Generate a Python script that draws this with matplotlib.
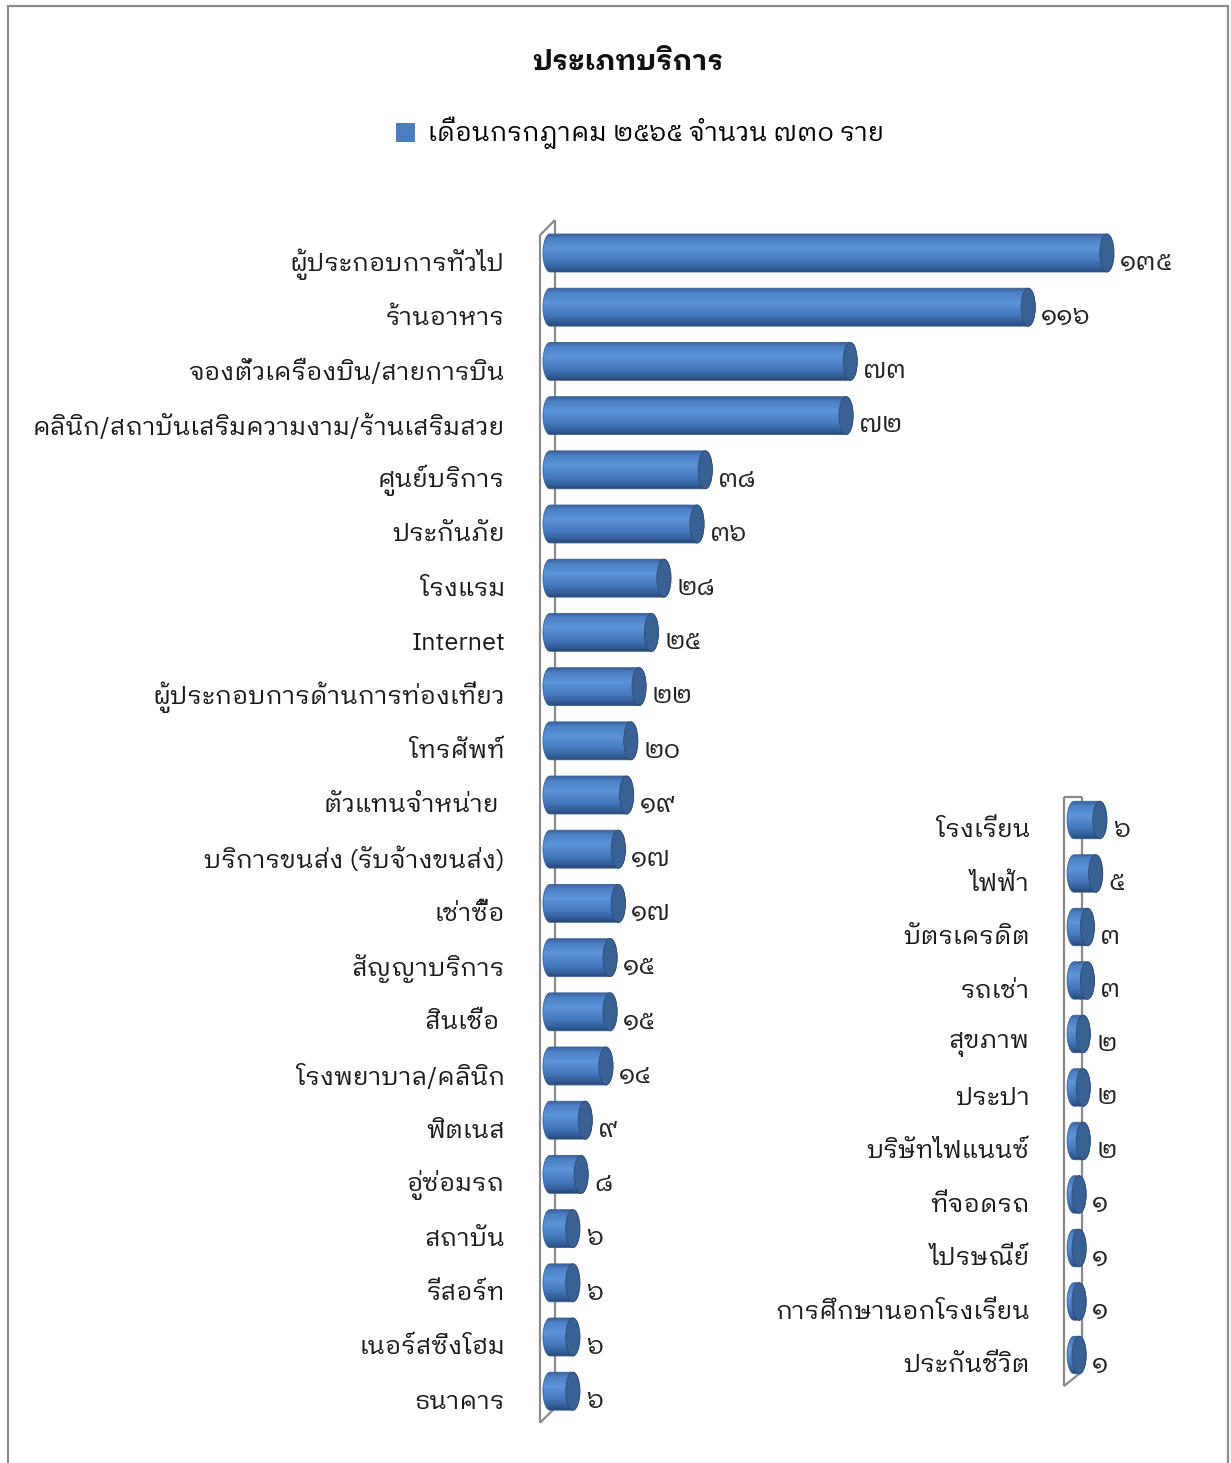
import matplotlib
matplotlib.use("Agg")
import numpy as np
import matplotlib.pyplot as plt
from matplotlib.patches import Ellipse, PathPatch, Rectangle, Patch
from matplotlib.path import Path
from matplotlib.colors import LinearSegmentedColormap

plt.rcParams["font.family"] = ["IBM Plex Sans Thai Looped", "Noto Sans Thai Looped", "DejaVu Sans"]

# ---- data ----
title = "ประเภทบริการ"
legend_label = "เดือนกรกฎาคม ๒๕๖๕ จำนวน ๗๓๐ ราย"

main_cats = [
    "ผู้ประกอบการทั่วไป", "ร้านอาหาร", "จองตั๋วเครื่องบิน/สายการบิน",
    "คลินิก/สถาบันเสริมความงาม/ร้านเสริมสวย", "ศูนย์บริการ", "ประกันภัย",
    "โรงแรม", "Internet", "ผู้ประกอบการด้านการท่องเที่ยว", "โทรศัพท์",
    "ตัวแทนจำหน่าย ", "บริการขนส่ง (รับจ้างขนส่ง)", "เช่าซื้อ", "สัญญาบริการ",
    "สินเชื่อ ", "โรงพยาบาล/คลินิก", "ฟิตเนส", "อู่ซ่อมรถ", "สถาบัน",
    "รีสอร์ท", "เนอร์สซิ่งโฮม", "ธนาคาร",
]
main_vals = [135, 116, 73, 72, 38, 36, 28, 25, 22, 20, 19, 17, 17, 15, 15, 14, 9, 8, 6, 6, 6, 6]

side_cats = [
    "โรงเรียน", "ไฟฟ้า", "บัตรเครดิต", "รถเช่า", "สุขภาพ", "ประปา",
    "บริษัทไฟแนนซ์", "ที่จอดรถ", "ไปรษณีย์", "การศึกษานอกโรงเรียน", "ประกันชีวิต",
]
side_vals = [6, 5, 3, 3, 2, 2, 2, 1, 1, 1, 1]

THAI_DIGITS = str.maketrans("0123456789", "๐๑๒๓๔๕๖๗๘๙")

W, H = 1231, 1463
fig = plt.figure(figsize=(W / 100, H / 100), dpi=100)
fig.patch.set_facecolor("white")

PX = 4.14  # pixels per unit of value


def make_axes(x_left_px, x_right_px, zero_px, y_top_px, y_bot_px, row0_px, row_px):
    ax = fig.add_axes([x_left_px / W, 1 - y_bot_px / H,
                       (x_right_px - x_left_px) / W, (y_bot_px - y_top_px) / H])
    ax.set_xlim((x_left_px - zero_px) / PX, (x_right_px - zero_px) / PX)
    ax.set_ylim((y_bot_px - row0_px) / row_px, (y_top_px - row0_px) / row_px)
    ax.axis("off")
    return ax


body_cmap = LinearSegmentedColormap.from_list(
    "cyl", [(0.0, "#3a64a0"), (0.12, "#4d81c6"), (0.38, "#5d93d8"),
            (0.7, "#4679bd"), (0.9, "#335e99"), (1.0, "#27497a")])
grad = np.linspace(0, 1, 64).reshape(-1, 1)


def cylinder(ax, y, v, x_front, h=0.70, rx=1.7):
    top, bot = y - h / 2, y + h / 2
    xc = max(v - rx, x_front + rx)
    k = 0.5523
    verts = [
        (x_front + rx, top), (xc, top),
        (xc + rx * k, top), (xc + rx, y - h / 2 * k), (xc + rx, y),
        (xc + rx, y + h / 2 * k), (xc + rx * k, bot), (xc, bot),
        (x_front + rx, bot),
        (x_front + rx * (1 - k), bot), (x_front, y + h / 2 * k), (x_front, y),
        (x_front, y - h / 2 * k), (x_front + rx * (1 - k), top), (x_front + rx, top),
    ]
    codes = [Path.MOVETO, Path.LINETO,
             Path.CURVE4, Path.CURVE4, Path.CURVE4,
             Path.CURVE4, Path.CURVE4, Path.CURVE4,
             Path.LINETO,
             Path.CURVE4, Path.CURVE4, Path.CURVE4,
             Path.CURVE4, Path.CURVE4, Path.CURVE4]
    path = Path(verts, codes)
    outline = PathPatch(path, facecolor="none", edgecolor="#3b5f8f", lw=0.6, zorder=3)
    ax.add_patch(outline)
    im = ax.imshow(grad, cmap=body_cmap, aspect="auto", interpolation="bilinear",
                   extent=[x_front, xc + rx, bot, top], zorder=2)
    im.set_clip_path(PathPatch(path, transform=ax.transData))
    cap = Ellipse((xc, y), 2 * rx, h, facecolor="#3a6193", edgecolor="#2c4c78",
                  lw=0.6, zorder=4)
    ax.add_patch(cap)
    return xc + rx


def panel(ax, cats, vals, x_front, wall_front, wall_top, wall_top_front, label_x, fs=18.3):
    n = len(cats)
    rows = np.arange(n)
    wall_kw = dict(color="#8a8a8a", lw=1.6, solid_capstyle="butt", zorder=1)
    wall_bot = n - 1 + 0.31
    ax.plot([0, 0], [wall_top, wall_bot], **wall_kw)
    ax.plot([wall_front, wall_front], [wall_top_front, wall_bot + 0.27], **wall_kw)
    ax.plot([wall_front, 0], [wall_top_front, wall_top], **wall_kw)
    ax.plot([wall_front, 0], [wall_bot + 0.27, wall_bot], **wall_kw)
    for y, c, v in zip(rows, cats, vals):
        end = cylinder(ax, y, v, x_front)
        ax.text(end + 1.4, y + 0.17, str(v).translate(THAI_DIGITS), ha="left",
                va="center", fontsize=19, color="#222222", clip_on=False)
        ax.text(label_x, y + 0.2, c, ha="right", va="center", fontsize=fs,
                color="#1a1a1a", clip_on=False)


ax1 = make_axes(500, W, 555, 200, 1440, 253, 54.2)
panel(ax1, main_cats, main_vals, x_front=-2.9, wall_front=-3.6,
      wall_top=-0.61, wall_top_front=-0.33, label_x=(505 - 555) / PX)

ax2 = make_axes(1040, W, 1082, 770, 1400, 820, 53.5)
panel(ax2, side_cats, side_vals, x_front=-3.6, wall_front=-4.35,
      wall_top=-0.43, wall_top_front=-0.43, label_x=(1030 - 1082) / PX)

fig.text(628 / W, 1 - 62 / H, title, ha="center", va="center",
         fontsize=20.5, fontweight="bold", color="#111111")

fig.legend(handles=[Patch(facecolor="#4a7ebf", edgecolor="none")], labels=[legend_label],
           loc="center", bbox_to_anchor=(640 / W, 1 - 133 / H), frameon=False,
           fontsize=18.8, handlelength=0.75, handleheight=0.75, handletextpad=0.5)

fig.patches.append(Rectangle((8 / W, -0.01), 1220 / W, 1.01 - 6 / H,
                             transform=fig.transFigure, fill=False,
                             edgecolor="#8c8c8c", lw=1.6))

fig.savefig("out.png", dpi=100)
